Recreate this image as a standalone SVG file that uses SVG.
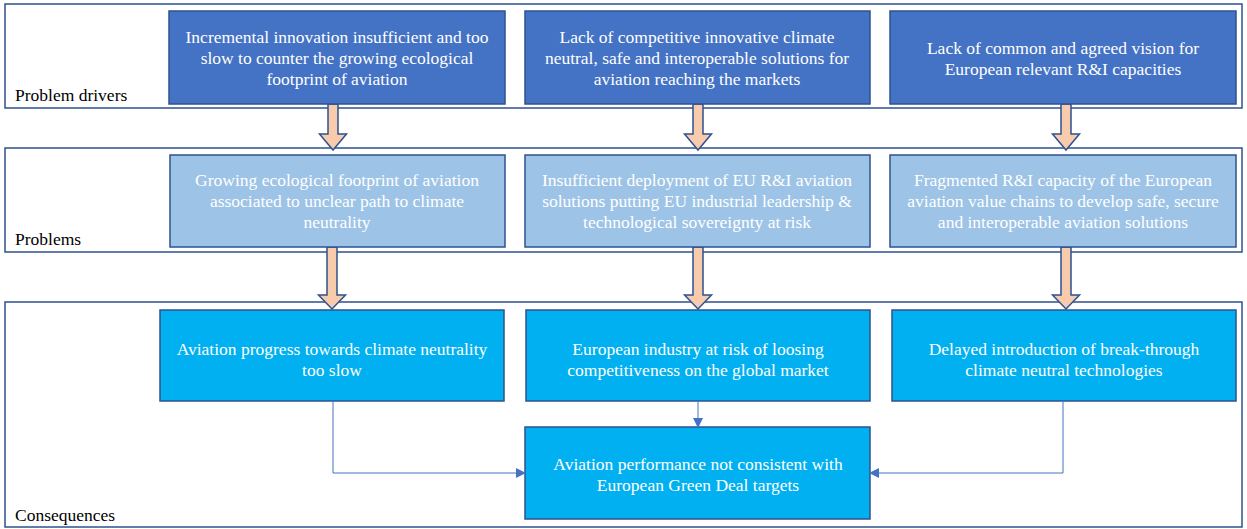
<svg xmlns="http://www.w3.org/2000/svg" width="1247" height="529" viewBox="0 0 1247 529">
<defs>
<style>
.band{fill:#ffffff;stroke:#2F528F;stroke-width:1.5}
.r1{fill:#4472C4;stroke:#2F528F;stroke-width:1.5}
.r2{fill:#9DC3E6;stroke:#2F528F;stroke-width:1.5}
.r3{fill:#00B0F0;stroke:#2F528F;stroke-width:1.5}
.t{font-size:17.5px;fill:#ffffff;text-anchor:middle}
.lbl{font-size:17.5px;fill:#000000}
.blk{fill:#F8CBAD;stroke:#2F528F;stroke-width:1.5;stroke-linejoin:miter}
.con{fill:none;stroke:#4472C4;stroke-width:1}
</style>
<marker id="ah" markerWidth="10" markerHeight="10" refX="9" refY="5" orient="auto" markerUnits="userSpaceOnUse">
<path d="M0,0 L10,5 L0,10 z" fill="#4472C4"/>
</marker>
</defs>
<g id="bands" font-family="'Liberation Serif', 'DejaVu Serif', serif">
<rect class="band" x="5" y="4" width="1237" height="104"/>
<rect class="band" x="5" y="148" width="1237" height="104"/>
<rect class="band" x="5" y="302" width="1237" height="225"/>
<text class="lbl" x="15" y="101">Problem drivers</text>
<text class="lbl" x="15" y="245">Problems</text>
<text class="lbl" x="15" y="521">Consequences</text>
</g>
<g id="block-arrows">
<path class="blk" d="M328,104 H338 V134 H346.5 L333,150 L319.5,134 H328 Z"/>
<path class="blk" d="M693,104 H703 V134 H711.5 L698,150 L684.5,134 H693 Z"/>
<path class="blk" d="M1061,104 H1071 V134 H1079.5 L1066,150 L1052.5,134 H1061 Z"/>
<path class="blk" d="M327,247 H337 V295 H345.5 L332,309 L318.5,295 H327 Z"/>
<path class="blk" d="M693,247 H703 V295 H711.5 L698,309 L684.5,295 H693 Z"/>
<path class="blk" d="M1061,247 H1071 V295 H1079.5 L1066,309 L1052.5,295 H1061 Z"/>
</g>
<g id="d1" font-family="'Liberation Serif', 'DejaVu Serif', serif">
<rect class="r1" x="169" y="11" width="336" height="93"/>
<text class="t" x="337" y="43">Incremental innovation insufficient and too</text>
<text class="t" x="337" y="64">slow to counter the growing ecological</text>
<text class="t" x="337" y="85">footprint of aviation</text>
</g>
<g id="d2" font-family="'Liberation Serif', 'DejaVu Serif', serif">
<rect class="r1" x="525" y="11" width="345" height="93"/>
<text class="t" x="697" y="43">Lack of competitive innovative climate</text>
<text class="t" x="697" y="64">neutral, safe and interoperable solutions for</text>
<text class="t" x="697" y="85">aviation reaching the markets</text>
</g>
<g id="d3" font-family="'Liberation Serif', 'DejaVu Serif', serif">
<rect class="r1" x="890" y="11" width="346" height="93"/>
<text class="t" x="1063" y="54">Lack of common and agreed vision for</text>
<text class="t" x="1063" y="75">European relevant R&amp;I capacities</text>
</g>
<g id="p1" font-family="'Liberation Serif', 'DejaVu Serif', serif">
<rect class="r2" x="170" y="155" width="335" height="92"/>
<text class="t" x="337" y="186">Growing ecological  footprint of aviation</text>
<text class="t" x="337" y="207">associated to unclear path to climate</text>
<text class="t" x="337" y="228">neutrality</text>
</g>
<g id="p2" font-family="'Liberation Serif', 'DejaVu Serif', serif">
<rect class="r2" x="525" y="155" width="345" height="92"/>
<text class="t" x="697" y="186">Insufficient deployment of EU R&amp;I aviation</text>
<text class="t" x="697" y="207">solutions putting EU industrial leadership &amp;</text>
<text class="t" x="697" y="228">technological sovereignty at risk</text>
</g>
<g id="p3" font-family="'Liberation Serif', 'DejaVu Serif', serif">
<rect class="r2" x="890" y="155" width="346" height="92"/>
<text class="t" x="1063" y="186">Fragmented R&amp;I capacity of the European</text>
<text class="t" x="1063" y="207">aviation value chains to develop safe, secure</text>
<text class="t" x="1063" y="228">and interoperable aviation solutions</text>
</g>
<g id="c1" font-family="'Liberation Serif', 'DejaVu Serif', serif">
<rect class="r3" x="160" y="310" width="344" height="91"/>
<text class="t" x="332" y="355">Aviation progress towards climate neutrality</text>
<text class="t" x="332" y="376">too slow</text>
</g>
<g id="c2" font-family="'Liberation Serif', 'DejaVu Serif', serif">
<rect class="r3" x="526" y="310" width="344" height="91"/>
<text class="t" x="698" y="355">European industry at risk of loosing</text>
<text class="t" x="698" y="376">competitiveness on the global market</text>
</g>
<g id="c3" font-family="'Liberation Serif', 'DejaVu Serif', serif">
<rect class="r3" x="892" y="310" width="344" height="91"/>
<text class="t" x="1064" y="355">Delayed introduction of break-through</text>
<text class="t" x="1064" y="376">climate neutral technologies</text>
</g>
<g id="c4" font-family="'Liberation Serif', 'DejaVu Serif', serif">
<rect class="r3" x="525" y="427" width="345" height="92"/>
<text class="t" x="698" y="470">Aviation performance not consistent with</text>
<text class="t" x="698" y="491">European Green Deal targets</text>
</g>
<g id="connectors">
<path class="con" d="M333,401 V473 H525" marker-end="url(#ah)"/>
<path class="con" d="M698,401 V427" marker-end="url(#ah)"/>
<path class="con" d="M1063,401 V473 H870" marker-end="url(#ah)"/>
</g>
</svg>
